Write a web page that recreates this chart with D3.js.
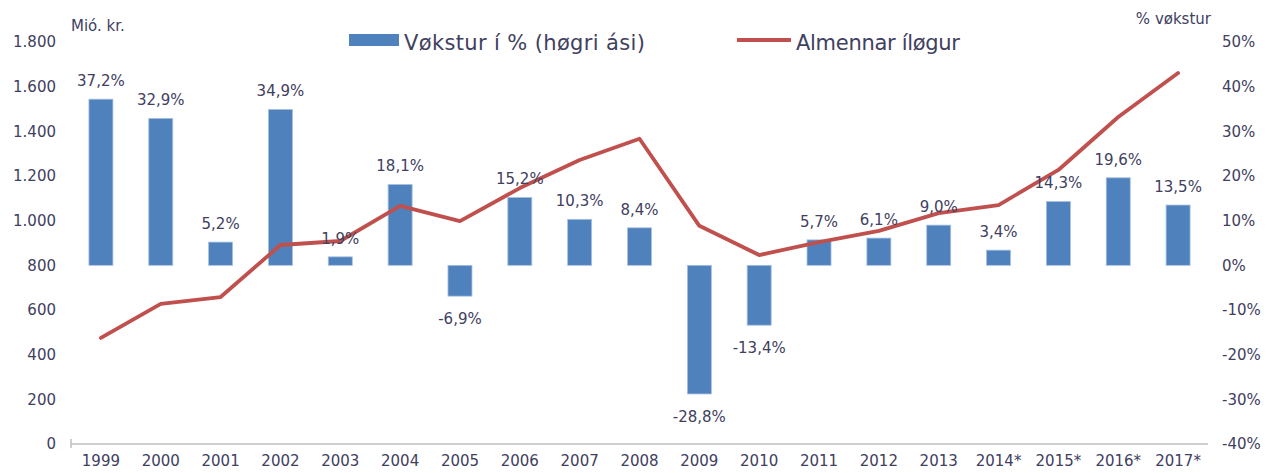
<!DOCTYPE html>
<html><head><meta charset="utf-8">
<script src="https://cdn.jsdelivr.net/npm/d3@7"></script>
<style>body{margin:0;background:#fff}svg{display:block}text{font-family:"DejaVu Sans",Verdana,sans-serif;fill:#404060}</style>
</head><body><div id="c"></div>
<script>
const years = ["1999","2000","2001","2002","2003","2004","2005","2006","2007","2008","2009","2010","2011","2012","2013","2014*","2015*","2016*","2017*"];
const growth = [37.2,32.9,5.2,34.9,1.9,18.1,-6.9,15.2,10.3,8.4,-28.8,-13.4,5.7,6.1,9.0,3.4,14.3,19.6,13.5];
const deposits = [475,627,658,891,909,1066,998,1146,1272,1367,977,846,904,954,1034,1070,1227,1464,1661];
const leftTicks = [0,200,400,600,800,1000,1200,1400,1600,1800];
const rightTicks = [-40,-30,-20,-10,0,10,20,30,40,50];

const W=1266,H=473;
const svg=d3.select("#c").append("svg").attr("width",W).attr("height",H);
const x=d3.scaleBand().domain(years).range([71,1208]);
const yL=d3.scaleLinear().domain([0,1800]).range([444,42]);
const yR=d3.scaleLinear().domain([-40,50]).range([444,42]);
const fmtL=d3.formatLocale({decimal:",",thousands:".",grouping:[3],currency:["",""],minus:"-"});
const fmtThousands=fmtL.format(",d");
const fmtPct=v=>fmtL.format(".1f")(v)+"%";

// left axis labels
svg.append("g").selectAll("text").data(leftTicks).join("text")
  .attr("x",56).attr("y",d=>yL(d)).attr("dy","0.35em").attr("text-anchor","end")
  .style("font-size","15px").text(d=>fmtThousands(d));
// right axis labels
svg.append("g").selectAll("text").data(rightTicks).join("text")
  .attr("x",1222).attr("y",d=>yR(d)).attr("dy","0.35em").attr("text-anchor","start")
  .style("font-size","15px").text(d=>fmtL.format("d")(d)+"%");
// x labels
svg.append("g").selectAll("text").data(years).join("text")
  .attr("x",d=>x(d)+x.bandwidth()/2).attr("y",466).attr("text-anchor","middle")
  .style("font-size","15px").text(d=>d);

// axis titles
svg.append("text").attr("x",71).attr("y",31).style("font-size","15px").text("Mió. kr.");
svg.append("text").attr("x",1211).attr("y",24).attr("text-anchor","end").style("font-size","15px").text("% vøkstur");

// bars
const bw=24;
svg.append("g").selectAll("rect").data(growth).join("rect")
  .attr("x",(d,i)=>x(years[i])+x.bandwidth()/2-bw/2)
  .attr("y",d=>yR(Math.max(0,d)))
  .attr("width",bw)
  .attr("height",d=>Math.abs(yR(d)-yR(0)))
  .attr("fill","#4F81BD").attr("stroke","#a9c1e0").attr("stroke-width",0.8);

// bottom axis line
svg.append("line").attr("x1",71).attr("x2",1208).attr("y1",444).attr("y2",444).attr("stroke","#BFBFBF").attr("stroke-width",1.5);
svg.append("line").attr("x1",71).attr("x2",71).attr("y1",439).attr("y2",448).attr("stroke","#BFBFBF").attr("stroke-width",1.5);

// line
const line=d3.line().x((d,i)=>x(years[i])+x.bandwidth()/2).y(d=>yL(d));
svg.append("path").datum(deposits).attr("d",line).attr("fill","none")
  .attr("stroke","#C0504D").attr("stroke-width",3.8).attr("stroke-linejoin","round").attr("stroke-linecap","round");

// bar labels
svg.append("g").selectAll("text").data(growth).join("text")
  .attr("x",(d,i)=>x(years[i])+x.bandwidth()/2)
  .attr("y",d=>d>=0?yR(d)-13:yR(d)+28)
  .attr("text-anchor","middle").style("font-size","15px").text(d=>fmtPct(d));

// legend
const lg=svg.append("g");
lg.append("rect").attr("x",349).attr("y",34).attr("width",50).attr("height",12).attr("fill","#4F81BD");
lg.append("text").attr("x",404).attr("y",50).style("font-size","21px")
  .attr("textLength",241).attr("lengthAdjust","spacing").text("Vøkstur í % (høgri ási)");
lg.append("line").attr("x1",737).attr("x2",791).attr("y1",40).attr("y2",40).attr("stroke","#C0504D").attr("stroke-width",3.8);
lg.append("text").attr("x",796).attr("y",50).style("font-size","21px")
  .attr("textLength",164).attr("lengthAdjust","spacing").text("Almennar íløgur");
</script></body></html>
